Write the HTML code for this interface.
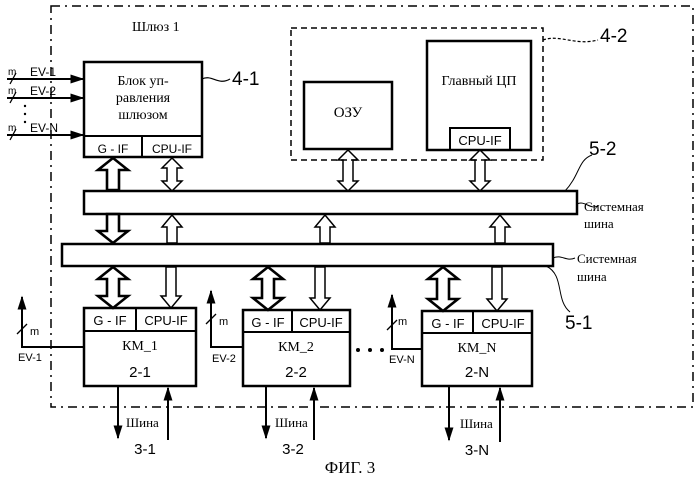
<!DOCTYPE html>
<html><head><meta charset="utf-8"><style>
html,body{margin:0;padding:0;background:#fff;}
svg{display:block;}
.s{font-family:"Liberation Sans",sans-serif;}
.r{font-family:"Liberation Serif","DejaVu Serif",serif;}
</style></head><body>
<svg width="699" height="486" viewBox="0 0 699 486" xmlns="http://www.w3.org/2000/svg">
<defs><marker id="ah" viewBox="0 0 10 10" refX="9" refY="5" markerWidth="7" markerHeight="4.5" orient="auto" preserveAspectRatio="none"><path d="M0,0 L10,5 L0,10Z" fill="#000"/></marker></defs>
<g fill="none" stroke="#000">
<rect x="51" y="6" width="642" height="401" stroke-width="1.5" stroke-dasharray="9,5,2,5"/>
<rect x="291" y="28" width="252" height="132" stroke-width="1.5" stroke-dasharray="6,4"/>
<path d="M543,40 C560,34 575,46 598,40" stroke-width="1.2" stroke-dasharray="3,2"/>
<rect x="84" y="62" width="118" height="95" stroke-width="2.5"/>
<line x1="84" y1="136" x2="202" y2="136" stroke-width="2"/>
<line x1="142" y1="136" x2="142" y2="157" stroke-width="2"/>
<path d="M202,79 C212,74 218,86 230,79" stroke-width="1.2"/>
<rect x="304" y="82" width="88" height="67" stroke-width="2.5"/>
<rect x="427" y="41" width="104" height="109" stroke-width="2.5"/>
<rect x="450" y="128" width="60" height="22" stroke-width="2"/>
<rect x="84" y="191" width="493" height="23" stroke-width="2.5"/>
<rect x="62" y="244" width="491" height="22" stroke-width="2.5"/>
<path d="M577,204 C585,200 590,210 598,206" stroke-width="1"/>
<path d="M565,191 C580,175 578,160 592,155" stroke-width="1"/>
<path d="M553,258 C562,254 566,262 575,258" stroke-width="1"/>
<path d="M546,266 C565,275 555,300 570,312" stroke-width="1"/>
<g stroke-width="2.6">
<path d="M113,158 L128,170 L119,170 L119,190 L107,190 L107,170 L98,170Z"/>
<path d="M107,214 L119,214 L119,231 L128,231 L113,243 L98,231 L107,231Z"/>
<path d="M113,267 L128,279 L119,279 L119,296 L128,296 L113,308 L98,296 L107,296 L107,279 L98,279Z"/>
<path d="M268,267 L283,279 L274,279 L274,298 L283,298 L268,310 L253,298 L262,298 L262,279 L253,279Z"/>
<path d="M443,267 L458,279 L449,279 L449,299 L458,299 L443,311 L428,299 L437,299 L437,279 L428,279Z"/>
</g>
<g stroke-width="1.5">
<path d="M172,158 L182,168 L177,168 L177,181 L182,181 L172,191 L162,181 L167,181 L167,168 L162,168Z"/>
<path d="M348,150 L358,160 L353,160 L353,181 L358,181 L348,191 L338,181 L343,181 L343,160 L338,160Z"/>
<path d="M480,150 L490,160 L485,160 L485,181 L490,181 L480,191 L470,181 L475,181 L475,160 L470,160Z"/>
<path d="M172,215 L182,227 L177,227 L177,243 L167,243 L167,227 L162,227Z"/>
<path d="M325,215 L335,227 L330,227 L330,243 L320,243 L320,227 L315,227Z"/>
<path d="M500,215 L510,227 L505,227 L505,243 L495,243 L495,227 L490,227Z"/>
<path d="M166,267 L176,267 L176,296 L181,296 L171,308 L161,296 L166,296Z"/>
<path d="M315,267 L325,267 L325,298 L330,298 L320,310 L310,298 L315,298Z"/>
<path d="M492,267 L502,267 L502,299 L507,299 L497,311 L487,299 L492,299Z"/>
</g>
<rect x="84" y="308" width="112" height="78" stroke-width="2.5"/>
<line x1="84" y1="331" x2="196" y2="331" stroke-width="2"/><line x1="136" y1="308" x2="136" y2="331" stroke-width="2"/>
<rect x="243" y="310" width="107" height="76" stroke-width="2.5"/>
<line x1="243" y1="332" x2="350" y2="332" stroke-width="2"/><line x1="292" y1="310" x2="292" y2="332" stroke-width="2"/>
<rect x="422" y="311" width="110" height="75" stroke-width="2.5"/>
<line x1="422" y1="333" x2="532" y2="333" stroke-width="2"/><line x1="473" y1="311" x2="473" y2="333" stroke-width="2"/>
<g stroke-width="2" marker-end="url(#ah)">
<line x1="7" y1="79" x2="83" y2="79"/><line x1="7" y1="98" x2="83" y2="98"/><line x1="7" y1="135" x2="83" y2="135"/>
<polyline points="84,347 22,347 22,297"/>
<polyline points="243,347 211,347 211,291"/>
<polyline points="422,349 392,349 392,295"/>
<line x1="118" y1="386" x2="118" y2="438"/><line x1="168" y1="440" x2="168" y2="388"/>
<line x1="266" y1="386" x2="266" y2="438"/><line x1="314" y1="440" x2="314" y2="388"/>
<line x1="449" y1="386" x2="449" y2="440"/><line x1="500" y1="442" x2="500" y2="388"/>
</g>
<g stroke-width="1.3">
<line x1="10" y1="84" x2="16" y2="73"/><line x1="10" y1="103" x2="16" y2="92"/><line x1="10" y1="140" x2="16" y2="129"/>
<line x1="17" y1="334" x2="27" y2="324"/><line x1="206" y1="324" x2="216" y2="314"/><line x1="387" y1="330" x2="397" y2="320"/>
</g>
</g>
<g fill="#000">
<circle cx="25" cy="106" r="1.2"/><circle cx="25" cy="114" r="1.2"/><circle cx="25" cy="122" r="1.2"/>
<circle cx="358" cy="350" r="2"/><circle cx="370" cy="350" r="2"/><circle cx="382" cy="350" r="2"/>
</g>
<g class="r" font-size="13" fill="#000">
<text x="132" y="31" font-size="14">Шлюз 1</text>
<text x="143" y="85" text-anchor="middle" font-size="14">Блок уп-</text>
<text x="143" y="102" text-anchor="middle" font-size="14">равления</text>
<text x="143" y="119" text-anchor="middle" font-size="14">шлюзом</text>
<text x="348" y="117" text-anchor="middle" font-size="15">ОЗУ</text>
<text x="479" y="85" text-anchor="middle" font-size="14">Главный ЦП</text>
<text x="584" y="211">Системная</text>
<text x="584" y="228">шина</text>
<text x="577" y="263">Системная</text>
<text x="577" y="281">шина</text>
<text x="140" y="350" text-anchor="middle" font-size="14">КМ_1</text>
<text x="296" y="351" text-anchor="middle" font-size="14">КМ_2</text>
<text x="477" y="352" text-anchor="middle" font-size="14">КМ_N</text>
<text x="126" y="427">Шина</text><text x="275" y="427">Шина</text><text x="460" y="428">Шина</text>
<text x="350" y="473" text-anchor="middle" font-size="17">ФИГ. 3</text>
</g>
<g class="s" fill="#000">
<text x="8" y="75" font-size="10">m</text><text x="30" y="76" font-size="12">EV-1</text>
<text x="8" y="94" font-size="10">m</text><text x="30" y="95" font-size="12">EV-2</text>
<text x="8" y="131" font-size="10">m</text><text x="30" y="132" font-size="12">EV-N</text>
<text x="113" y="153" text-anchor="middle" font-size="12">G - IF</text>
<text x="172" y="153" text-anchor="middle" font-size="12">CPU-IF</text>
<text x="480" y="145" text-anchor="middle" font-size="13">CPU-IF</text>
<text x="110" y="325" text-anchor="middle" font-size="13">G - IF</text>
<text x="166" y="325" text-anchor="middle" font-size="13">CPU-IF</text>
<text x="268" y="327" text-anchor="middle" font-size="13">G - IF</text>
<text x="321" y="327" text-anchor="middle" font-size="13">CPU-IF</text>
<text x="448" y="328" text-anchor="middle" font-size="13">G - IF</text>
<text x="503" y="328" text-anchor="middle" font-size="13">CPU-IF</text>
<text x="140" y="377" text-anchor="middle" font-size="15">2-1</text>
<text x="296" y="377" text-anchor="middle" font-size="15">2-2</text>
<text x="477" y="377" text-anchor="middle" font-size="15">2-N</text>
<text x="30" y="335" font-size="11">m</text><text x="219" y="325" font-size="11">m</text><text x="398" y="325" font-size="11">m</text>
<text x="18" y="361" font-size="11">EV-1</text><text x="212" y="362" font-size="11">EV-2</text><text x="389" y="363" font-size="11">EV-N</text>
<text x="145" y="454" text-anchor="middle" font-size="15">3-1</text>
<text x="293" y="454" text-anchor="middle" font-size="15">3-2</text>
<text x="477" y="455" text-anchor="middle" font-size="15">3-N</text>
<text x="232" y="85" font-size="19">4-1</text>
<text x="600" y="42" font-size="19">4-2</text>
<text x="589" y="155" font-size="19">5-2</text>
<text x="565" y="329" font-size="19">5-1</text>
</g>
</svg>
</body></html>
